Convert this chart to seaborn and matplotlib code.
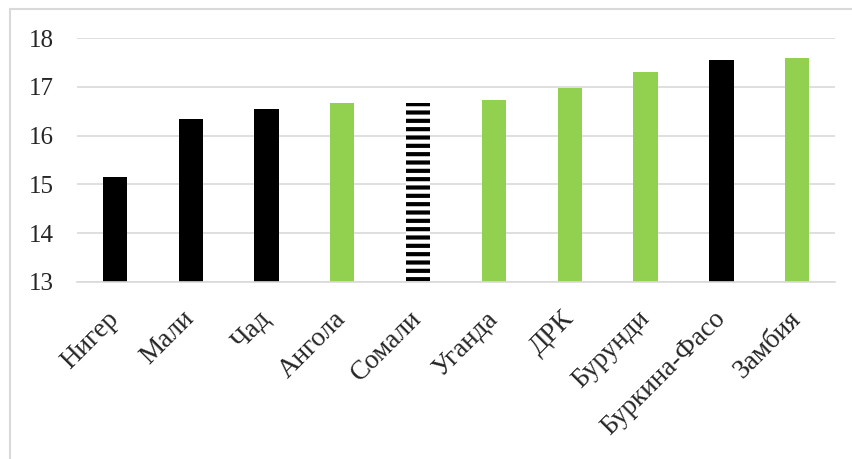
import matplotlib
matplotlib.use('Agg')
import matplotlib.pyplot as plt
import seaborn as sns
import pandas as pd
from matplotlib.patches import Rectangle

# Data
countries = ['Нигер', 'Мали', 'Чад', 'Ангола', 'Сомали', 'Уганда', 'ДРК',
             'Бурунди', 'Буркина-Фасо', 'Замбия']
values = [15.16, 16.34, 16.55, 16.67, 16.68, 16.73, 16.98, 17.31, 17.55, 17.59]
bar_colors = ['#000000', '#000000', '#000000', '#92D050', '#FFFFFF',
              '#92D050', '#92D050', '#92D050', '#000000', '#92D050']
hatched = 'Сомали'

sns.set_style('white')
plt.rcParams['font.family'] = ['Liberation Serif', 'DejaVu Serif']
plt.rcParams['hatch.linewidth'] = 3.0

df = pd.DataFrame({'country': countries, 'value': values})

fig = plt.figure(figsize=(8.53, 4.59), dpi=100)
ax = fig.add_axes([0.0903, 0.3863, 0.979 - 0.0903, 0.9166 - 0.3863])

sns.barplot(data=df, x='country', y='value', hue='country',
            palette=dict(zip(countries, bar_colors)), legend=False,
            width=0.32, saturation=1, linewidth=0, ax=ax)

# striped bar
for patch, name in zip(ax.patches, countries):
    if name == hatched:
        patch.set_facecolor('white')
        patch.set_edgecolor('black')
        patch.set_hatch('--')
        patch.set_linewidth(0)

ax.set_ylim(13, 18)
ax.set_yticks([13, 14, 15, 16, 17, 18])
ax.yaxis.grid(True, color='#d9d9d9', linewidth=1.2)
ax.set_axisbelow(True)
for side in ['top', 'right', 'left']:
    ax.spines[side].set_visible(False)
ax.spines['bottom'].set_color('#d9d9d9')
ax.spines['bottom'].set_linewidth(1.2)
ax.set_xlabel('')
ax.set_ylabel('')
ax.tick_params(axis='y', length=0, pad=17, labelsize=18)
ax.tick_params(axis='x', length=0, pad=24, labelsize=19.5)
ax.set_xticks(range(len(countries)))
ax.set_xticklabels(countries, rotation=45, ha='right', va='center',
                   rotation_mode='anchor')

# light frame around the chart (cut off at right and bottom like the source)
fig.patches.append(Rectangle((10 / 853, -0.1), 1.1, 1 - 9.5 / 459 + 0.1,
                             transform=fig.transFigure, fill=False,
                             edgecolor='#d9d9d9', linewidth=1.5))

fig.savefig('out.png', dpi=100)
